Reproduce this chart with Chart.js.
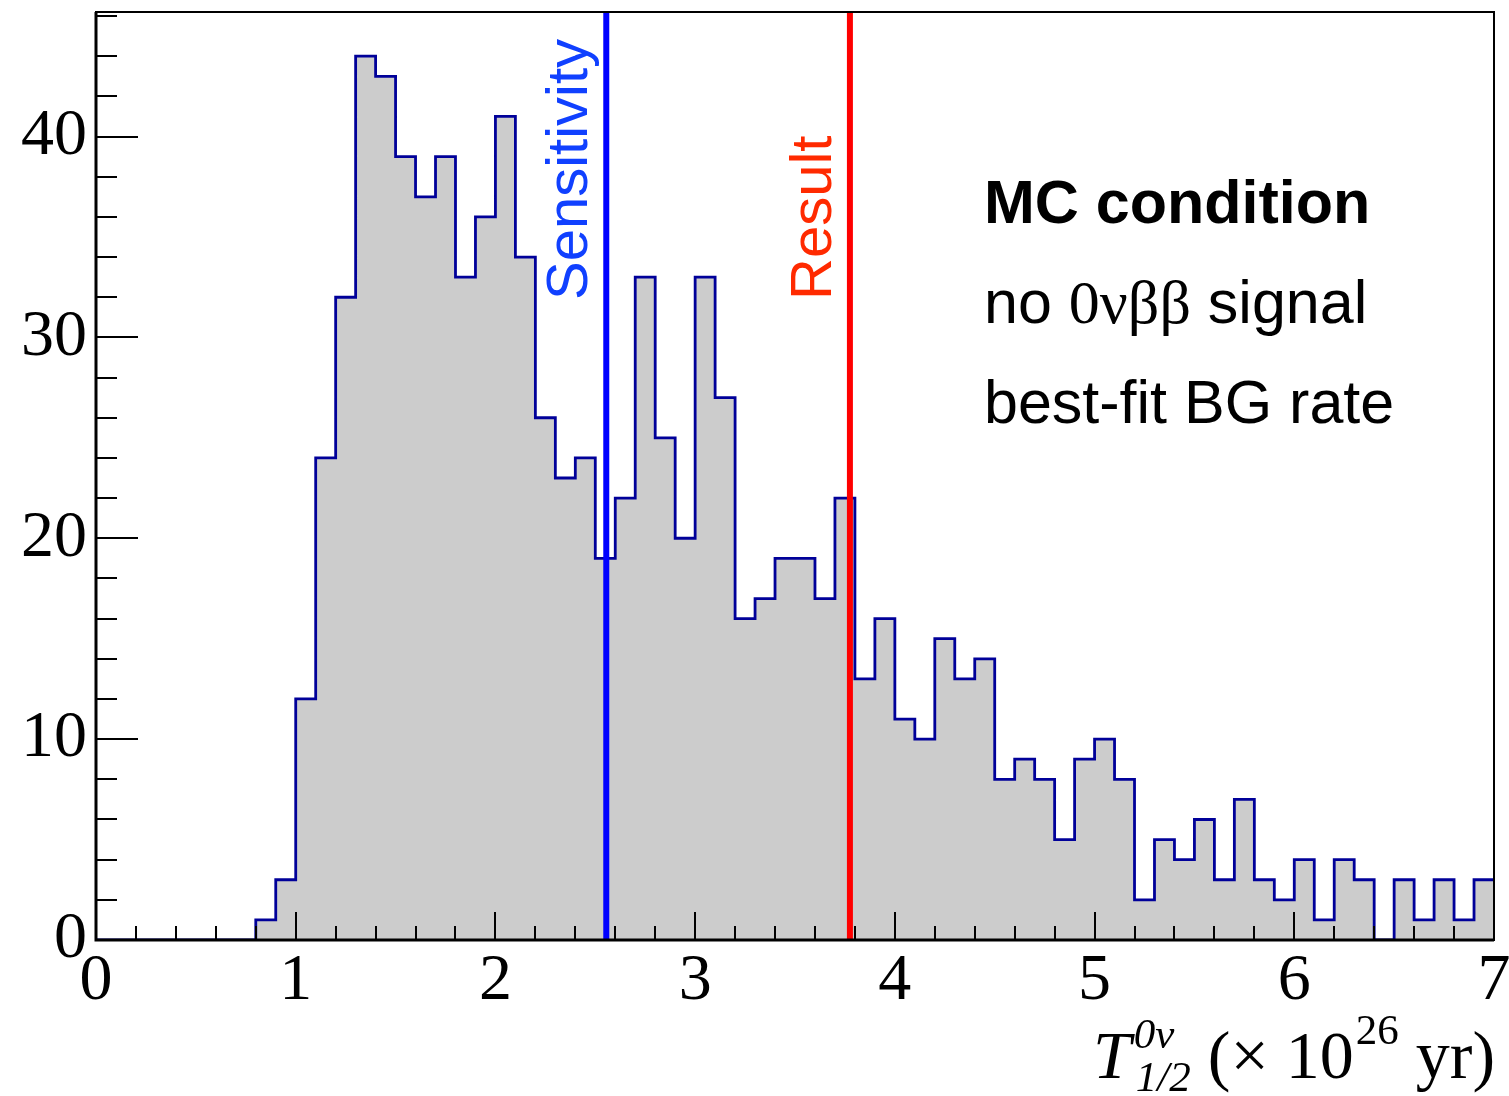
<!DOCTYPE html>
<html>
<head>
<meta charset="utf-8">
<title>T1/2 distribution, MC condition</title>
<script src="https://cdn.jsdelivr.net/npm/chart.js@4.4.1/dist/chart.umd.min.js"></script>
<style>
  html, body { margin: 0; padding: 0; background: #fff; }
  canvas { display: block; }
</style>
</head>
<body>
<canvas id="hist" width="1509" height="1096"></canvas>
<script>
// 70 bins of 0.1 from 0 to 7 (x 10^26 yr)
const binStart = 0;
const binWidth = 0.1;
const counts = [
  0, 0, 0, 0, 0, 0, 0, 0, 1, 3,
  12, 24, 32, 44, 43, 39, 37, 39, 33, 36,
  41, 34, 26, 23, 24, 19, 22, 33, 25, 20,
  33, 27, 16, 17, 19, 19, 17, 22, 13, 16,
  11, 10, 15, 13, 14, 8, 9, 8, 5, 9,
  10, 8, 2, 5, 4, 6, 3, 7, 3, 2,
  4, 1, 4, 3, 0, 3, 1, 3, 1, 3
];
const sensitivity = 2.555;
const result = 3.775;
const xTicks = [0, 1, 2, 3, 4, 5, 6, 7];
const yTicks = [0, 10, 20, 30, 40];
const xRange = [0, 7];
const yRange = [0, 46.2];
const infoLines = ['MC condition', 'no ', '0νββ', ' signal', 'best-fit BG rate'];

const SANS = '"Liberation Sans", Arial, sans-serif';
const SERIF = '"Liberation Serif", "Times New Roman", serif';

// lower bin edges + closing point at the right edge
const histPoints = counts.map((c, i) => ({ x: binStart + i * binWidth, y: c }));
histPoints.push({ x: binStart + counts.length * binWidth, y: counts[counts.length - 1] });

function markerLine(v) {
  return [{ x: v, y: yRange[0] }, { x: v, y: yRange[1] }];
}

// ROOT-like frame, inward ticks and texts
const rootStyle = {
  id: 'rootStyle',
  afterDatasetsDraw(chart) {
    const { ctx, chartArea: a, scales: { x, y } } = chart;
    ctx.save();
    ctx.strokeStyle = '#000';
    ctx.lineWidth = 2;
    ctx.beginPath();
    for (let i = 0; i <= 35; i++) {
      const px = Math.round(x.getPixelForValue(i * 0.2));
      const len = i % 5 === 0 ? 28 : 14;
      ctx.moveTo(px, a.bottom);
      ctx.lineTo(px, a.bottom - len);
    }
    for (let i = 0; i * 2 <= yRange[1]; i++) {
      const py = Math.round(y.getPixelForValue(i * 2));
      const len = i % 5 === 0 ? 42 : 21;
      ctx.moveTo(a.left, py);
      ctx.lineTo(a.left + len, py);
    }
    ctx.stroke();

    // frame
    ctx.lineWidth = 2;
    ctx.strokeRect(a.left, a.top, a.right - a.left, a.bottom - a.top);
    ctx.lineWidth = 3;
    ctx.beginPath();
    ctx.moveTo(a.left, a.top);
    ctx.lineTo(a.left, a.bottom);
    ctx.lineTo(a.right, a.bottom);
    ctx.stroke();
    ctx.restore();
  },
  afterDraw(chart) {
    const { ctx, scales: { x } } = chart;
    ctx.save();

    // rotated marker labels
    ctx.font = '58px ' + SANS;
    ctx.textBaseline = 'alphabetic';
    ctx.textAlign = 'left';
    [[sensitivity, 'Sensitivity', '#1040ff'], [result, 'Result', '#ff2a00']].forEach(([v, txt, col]) => {
      ctx.save();
      ctx.translate(x.getPixelForValue(v) - 19, 300);
      ctx.rotate(-Math.PI / 2);
      ctx.fillStyle = col;
      ctx.fillText(txt, 0, 0);
      ctx.restore();
    });

    // info block
    ctx.fillStyle = '#000';
    ctx.font = 'bold 61px ' + SANS;
    ctx.fillText(infoLines[0], 984, 223);
    let tx = 984;
    ctx.font = '61px ' + SANS;
    ctx.fillText(infoLines[1], tx, 323);
    tx += ctx.measureText(infoLines[1]).width;
    ctx.font = '62px ' + SERIF;
    ctx.fillText(infoLines[2], tx, 323);
    tx += ctx.measureText(infoLines[2]).width;
    ctx.font = '61px ' + SANS;
    ctx.fillText(infoLines[3], tx, 323);
    ctx.fillText(infoLines[4], 984, 423);

    // axis title T^{0v}_{1/2} (x 10^{26} yr)
    const base = 1078;
    let ax = 1093;
    ctx.font = 'italic 68px ' + SERIF;
    ctx.fillText('T', ax, base);
    ax += ctx.measureText('T').width + 3;
    ctx.font = 'italic 43px ' + SERIF;
    ctx.fillText('0ν', ax, base - 30);
    const wSup = ctx.measureText('0ν').width;
    ctx.fillText('1/2', ax + 2, base + 13);
    const wSub = ctx.measureText('1/2').width + 2;
    ax += Math.max(wSup, wSub);
    ctx.font = '68px ' + SERIF;
    ax += ctx.measureText(' ').width;
    ctx.fillText('(× 10', ax, base);
    ax += ctx.measureText('(× 10').width + 2;
    ctx.font = '43px ' + SERIF;
    ctx.fillText('26', ax, base - 34);
    ax += ctx.measureText('26').width;
    ctx.font = '68px ' + SERIF;
    ctx.fillText(' yr)', ax, base);
    ctx.restore();
  }
};

new Chart(document.getElementById('hist'), {
  type: 'line',
  data: {
    datasets: [
      {
        label: 'MC',
        data: histPoints,
        stepped: true,
        fill: 'origin',
        backgroundColor: '#cccccc',
        borderColor: '#000099',
        borderWidth: 2.8,
        pointRadius: 0,
        order: 2
      },
      {
        label: 'Sensitivity',
        data: markerLine(sensitivity),
        borderColor: '#0000ff',
        borderWidth: 6,
        pointRadius: 0,
        fill: false,
        order: 1
      },
      {
        label: 'Result',
        data: markerLine(result),
        borderColor: '#ff0000',
        borderWidth: 6,
        pointRadius: 0,
        fill: false,
        order: 1
      }
    ]
  },
  options: {
    responsive: false,
    animation: false,
    devicePixelRatio: 1,
    layout: { padding: { top: 12, right: 15, left: 0, bottom: 0 } },
    plugins: { legend: { display: false }, tooltip: { enabled: false } },
    scales: {
      x: {
        type: 'linear',
        min: xRange[0],
        max: xRange[1],
        grid: { display: false, drawTicks: false },
        border: { display: false },
        ticks: { font: { family: SERIF, size: 66 }, color: '#000', padding: 2, maxRotation: 0, autoSkip: false },
        afterBuildTicks: s => { s.ticks = xTicks.map(v => ({ value: v })); },
        afterFit: s => { s.height = 156; s.paddingLeft = 0; s.paddingRight = 0; }
      },
      y: {
        type: 'linear',
        min: yRange[0],
        max: yRange[1],
        grid: { display: false, drawTicks: false },
        border: { display: false },
        ticks: { font: { family: SERIF, size: 66 }, color: '#000', padding: 9 },
        afterBuildTicks: s => { s.ticks = yTicks.map(v => ({ value: v })); },
        afterFit: s => { s.width = 96; s.paddingTop = 0; s.paddingBottom = 0; }
      }
    }
  },
  plugins: [rootStyle]
});
</script>
</body>
</html>
